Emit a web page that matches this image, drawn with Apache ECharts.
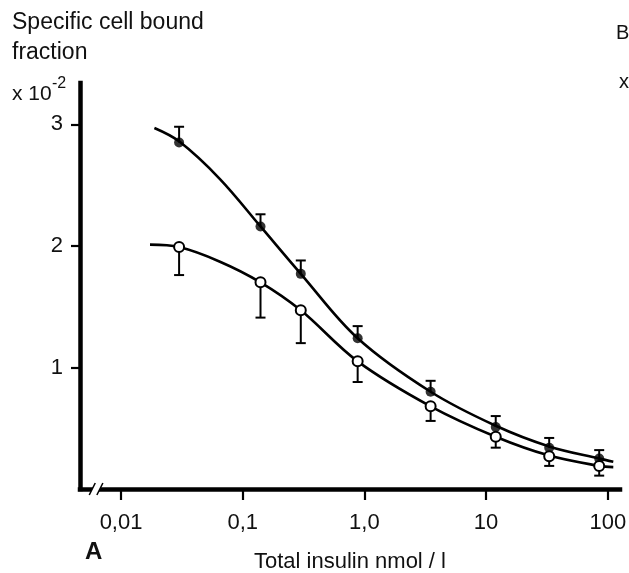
<!DOCTYPE html>
<html>
<head>
<meta charset="utf-8">
<script src="https://cdn.jsdelivr.net/npm/echarts@6/dist/echarts.min.js"></script>
<style>
html,body{margin:0;padding:0;background:#fff;}
#chart{width:629px;height:573px;}
</style>
</head>
<body>
<div id="chart"></div>
<script>
// ---- data ----
const tickValues = [0.01, 0.1, 1, 10, 100];
const tickLabels = ['0,01', '0,1', '1,0', '10', '100'];
const yTickValues = [1, 2, 3];
const yTickLabels = ['1', '2', '3'];

const concentration = [0.03, 0.14, 0.30, 0.88, 3.5, 12, 33, 85];
const boundFilled = [2.85, 2.16, 1.77, 1.24, 0.80, 0.51, 0.34, 0.25];
const errorTopFilled = [2.98, 2.26, 1.88, 1.34, 0.89, 0.60, 0.42, 0.32];
const boundOpen = [1.99, 1.70, 1.47, 1.05, 0.68, 0.43, 0.27, 0.19];
const errorBottomOpen = [1.76, 1.41, 1.20, 0.88, 0.56, 0.34, 0.19, 0.11];

const curveFilledX = [0.0188, 0.03, 0.065, 0.14, 0.30, 0.88, 3.5, 12, 33, 85, 111];
const curveFilledY = [2.97, 2.86, 2.55, 2.16, 1.77, 1.24, 0.80, 0.52, 0.35, 0.25, 0.225];
const curveOpenX = [0.0173, 0.03, 0.065, 0.14, 0.30, 0.88, 3.5, 12, 33, 85, 111];
const curveOpenY = [2.01, 1.99, 1.87, 1.70, 1.47, 1.05, 0.68, 0.43, 0.275, 0.19, 0.18];

// ---- chart ----
const FONT = '"Liberation Sans", Arial, sans-serif';
const INK = '#111';
const chart = echarts.init(document.getElementById('chart'), null, {renderer: 'canvas'});

function zip(a, b) { return a.map((v, i) => [v, b[i]]); }
function zip3(a, b, c) { return a.map((v, i) => [v, b[i], c[i]]); }
function nearestLabel(v, values, labels) {
  let best = 0, bd = Infinity;
  values.forEach((t, i) => { const d = Math.abs(Math.log(v) - Math.log(t)); if (d < bd) { bd = d; best = i; } });
  return labels[best];
}

function errorBarRender(params, api) {
  const x = api.value(0), y = api.value(1), e = api.value(2);
  const p = api.coord([x, y]);
  const q = api.coord([x, e]);
  const hw = 5;
  const st = {stroke: '#000', lineWidth: 2};
  return {
    type: 'group',
    children: [
      {type: 'line', shape: {x1: p[0], y1: p[1], x2: q[0], y2: q[1]}, style: st},
      {type: 'line', shape: {x1: q[0] - hw, y1: q[1], x2: q[0] + hw, y2: q[1]}, style: st}
    ]
  };
}

const option = {
  animation: false,
  backgroundColor: '#fff',
  grid: {left: 80, right: 9, top: 83, bottom: 84, containLabel: false, outerBoundsMode: 'none'},
  xAxis: {
    type: 'log',
    logBase: 10,
    min: 0.0046,
    max: 126,
    name: 'Total insulin nmol / l',
    nameLocation: 'middle',
    nameGap: 62,
    nameTextStyle: {fontFamily: FONT, fontSize: 22, color: INK},
    axisLine: {show: true, lineStyle: {color: '#000', width: 4.5, cap: 'square'}},
    axisTick: {show: true, length: 11, inside: false, customValues: tickValues, lineStyle: {color: '#000', width: 2.2}},
    axisLabel: {
      show: true, margin: 23, customValues: tickValues,
      fontFamily: FONT, fontSize: 22, color: INK,
      formatter: v => nearestLabel(v, tickValues, tickLabels)
    },
    splitLine: {show: false},
    minorTick: {show: false}
  },
  yAxis: {
    type: 'value',
    min: 0,
    max: 3.34,
    axisLine: {show: true, lineStyle: {color: '#000', width: 4.5, cap: 'square'}},
    axisTick: {show: true, length: 9, customValues: yTickValues, lineStyle: {color: '#000', width: 2.2}},
    axisLabel: {
      show: true, margin: 17, customValues: yTickValues,
      fontFamily: FONT, fontSize: 22, color: INK,
      formatter: v => yTickLabels[yTickValues.indexOf(Math.round(v))] || ''
    },
    splitLine: {show: false}
  },
  series: [
    {
      type: 'line', name: 'fit filled', data: zip(curveFilledX, curveFilledY),
      showSymbol: false, smooth: 0.35, lineStyle: {color: '#000', width: 2.6}, z: 1
    },
    {
      type: 'line', name: 'fit open', data: zip(curveOpenX, curveOpenY),
      showSymbol: false, smooth: 0.35, lineStyle: {color: '#000', width: 2.6}, z: 1
    },
    {
      type: 'custom', name: 'err filled', data: zip3(concentration, boundFilled, errorTopFilled),
      encode: {x: 0, y: [1, 2]}, renderItem: errorBarRender, z: 2
    },
    {
      type: 'custom', name: 'err open', data: zip3(concentration, boundOpen, errorBottomOpen),
      encode: {x: 0, y: [1, 2]}, renderItem: errorBarRender, z: 2
    },
    {
      type: 'scatter', name: 'filled', data: zip(concentration, boundFilled),
      symbol: 'circle', symbolSize: 10, itemStyle: {color: '#000'}, z: 3
    },
    {
      type: 'scatter', name: 'open', data: zip(concentration, boundOpen),
      symbol: 'circle', symbolSize: 10, itemStyle: {color: '#fff', borderColor: '#000', borderWidth: 2, opacity: 1}, z: 3
    }
  ],
  graphic: [
    {id: 't1', type: 'text', left: 12, top: 11, style: {text: 'Specific cell bound', font: '23px ' + FONT, fill: INK}},
    {id: 't2', type: 'text', left: 12, top: 41, style: {text: 'fraction', font: '23px ' + FONT, fill: INK}},
    {id: 't3', type: 'text', left: 12, top: 84, style: {text: 'x 10', font: '21px ' + FONT, fill: INK}},
    {id: 't4', type: 'text', left: 52, top: 76, style: {text: '-2', font: '16px ' + FONT, fill: INK}},
    {id: 't5', type: 'text', left: 85, top: 540, style: {text: 'A', font: 'bold 24px ' + FONT, fill: INK}},
    {id: 't6', type: 'text', left: 616, top: 23, style: {text: 'B', font: '20px ' + FONT, fill: INK}},
    {id: 't7', type: 'text', left: 619, top: 72, style: {text: 'x', font: '20px ' + FONT, fill: INK}}
  ]
};
chart.setOption(option);

// axis break mark near the origin
const p0 = chart.convertToPixel({xAxisIndex: 0, yAxisIndex: 0}, [0.0058, 0]);
const p1 = chart.convertToPixel({xAxisIndex: 0, yAxisIndex: 0}, [0.0067, 0]);
chart.setOption({
  graphic: [
    {id: 'brk0', type: 'polygon', z: 100, shape: {points: [[p0[0] - 3, p0[1] + 6], [p1[0] - 3, p1[1] + 6], [p1[0] + 3, p1[1] - 6], [p0[0] + 3, p0[1] - 6]]}, style: {fill: '#fff'}},
    {id: 'brk1', type: 'line', z: 101, shape: {x1: p0[0] - 3, y1: p0[1] + 6, x2: p0[0] + 3, y2: p0[1] - 6}, style: {stroke: '#000', lineWidth: 1.5}},
    {id: 'brk2', type: 'line', z: 101, shape: {x1: p1[0] - 3, y1: p1[1] + 6, x2: p1[0] + 3, y2: p1[1] - 6}, style: {stroke: '#000', lineWidth: 1.5}}
  ]
});
</script>
</body>
</html>
